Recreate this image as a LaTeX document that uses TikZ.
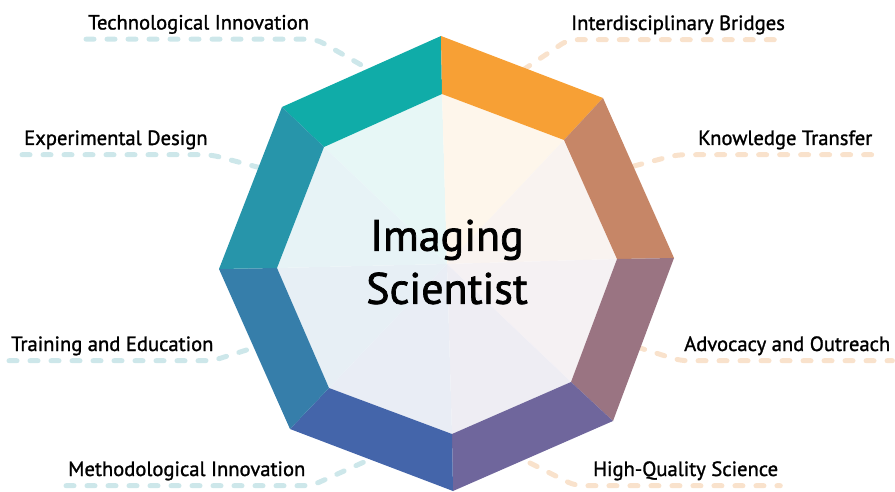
\documentclass[tikz,border=0pt]{standalone}
\usepackage{fontspec}
\setmainfont{PT Sans}
\newfontfamily\lblfont{PT Sans}[FakeBold=1.3]
\newfontfamily\titlefont{PT Sans}[FakeBold=1.6]
\usetikzlibrary{calc}

\definecolor{cteal}{HTML}{10ACA8}
\definecolor{corange}{HTML}{F7A035}
\definecolor{cbrown}{HTML}{C68667}
\definecolor{cmauve}{HTML}{9A7482}
\definecolor{cpurple}{HTML}{6F669C}
\definecolor{cblue}{HTML}{4465AA}
\definecolor{csteel}{HTML}{367EAA}
\definecolor{cteblue}{HTML}{2795AA}
\definecolor{leadleft}{HTML}{CDE7EA}
\definecolor{leadright}{HTML}{F9E2CC}

\tikzset{
  lbl/.style={font=\lblfont\fontsize{20.6}{24}\selectfont, text depth=0pt, inner xsep=2pt, inner ysep=9.5pt},
  leadL/.style={draw=leadleft, line width=5pt, line cap=round, dash pattern=on 8pt off 13pt, rounded corners=8pt},
  leadR/.style={leadL, draw=leadright},
}

\begin{document}
\begin{tikzpicture}[x=1pt, y=-1pt]
\useasboundingbox (0,0) rectangle (895,492);

\coordinate (c) at (447,264);
\coordinate (o1) at (441,36);
\coordinate (o2) at (603,98);
\coordinate (o3) at (674,258);
\coordinate (o4) at (613,421);
\coordinate (o5) at (453,491);
\coordinate (o6) at (290,429);
\coordinate (o7) at (219,269);
\coordinate (o8) at (282,107);
\coordinate (i1) at (442,94);
\coordinate (i2) at (564,140);
\coordinate (i3) at (617,259);
\coordinate (i4) at (571,382);
\coordinate (i5) at (452,434);
\coordinate (i6) at (329,388);
\coordinate (i7) at (277,268);
\coordinate (i8) at (324,147);

% labels
\node[lbl, anchor=base west] (tech) at (86,29.5) {Technological Innovation};
\node[lbl, anchor=base west] (exp) at (22,145) {Experimental Design};
\node[lbl, anchor=base west] (train) at (9,351) {Training and Education};
\node[lbl, anchor=base west] (meth) at (66,476) {Methodological Innovation};
\node[lbl, anchor=base west] (idb) at (569,30) {Interdisciplinary Bridges};
\node[lbl, anchor=base west] (kt) at (696,145) {Knowledge Transfer};
\node[lbl, anchor=base west] (ao) at (682,351) {Advocacy and Outreach};
\node[lbl, anchor=base west] (hqs) at (591,476) {High-Quality Science};

\coordinate (tech-end) at (370,70);
\coordinate (exp-end) at (261,168);
\coordinate (train-end) at (256,347);
\coordinate (meth-end) at (364,462);
\coordinate (idb-end) at (523,70);
\coordinate (kt-end) at (634,166);
\coordinate (ao-end) at (637,347);
\coordinate (hqs-end) at (530,463);

\draw[leadL] (tech.south west) -- ([xshift=5]tech.south east) -- (tech-end);
\draw[leadL] (exp.south west) -- ([xshift=1]exp.south east) -- (exp-end);
\draw[leadL] (train.south west) -- ([xshift=-3]train.south east) -- (train-end);
\draw[leadL] (meth.south west) -- ([xshift=4]meth.south east) -- (meth-end);
\draw[leadR] (idb-end) -- ([xshift=-1]idb.south west) -- (idb.south east);
\draw[leadR] (kt-end) -- ([xshift=-19]kt.south west) -- ([xshift=4]kt.south east);
\draw[leadR] (ao-end) -- ([xshift=-2]ao.south west) -- (ao.south east);
\draw[leadR] (hqs-end) -- ([xshift=-16]hqs.south west) -- (hqs.south east);

% inner wedges
\fill[cteal!10] (c) -- (i8) -- (i1) -- cycle;
\fill[corange!10] (c) -- (i1) -- (i2) -- cycle;
\fill[cbrown!10] (c) -- (i2) -- (i3) -- cycle;
\fill[cmauve!10] (c) -- (i3) -- (i4) -- cycle;
\fill[cpurple!12] (c) -- (i4) -- (i5) -- cycle;
\fill[cblue!12] (c) -- (i5) -- (i6) -- cycle;
\fill[csteel!12] (c) -- (i6) -- (i7) -- cycle;
\fill[cteblue!11] (c) -- (i7) -- (i8) -- cycle;

% outer band
\fill[cteal] (o8) -- (o1) -- (i1) -- (i8) -- cycle;
\fill[corange] (o1) -- (o2) -- (i2) -- (i1) -- cycle;
\fill[cbrown] (o2) -- (o3) -- (i3) -- (i2) -- cycle;
\fill[cmauve] (o3) -- (o4) -- (i4) -- (i3) -- cycle;
\fill[cpurple] (o4) -- (o5) -- (i5) -- (i4) -- cycle;
\fill[cblue] (o5) -- (o6) -- (i6) -- (i5) -- cycle;
\fill[csteel] (o6) -- (o7) -- (i7) -- (i6) -- cycle;
\fill[cteblue] (o7) -- (o8) -- (i8) -- (i7) -- cycle;

\node[font=\titlefont\fontsize{44}{53}\selectfont, align=center] (title) at (447,262) {Imaging\\Scientist};

\end{tikzpicture}
\end{document}
